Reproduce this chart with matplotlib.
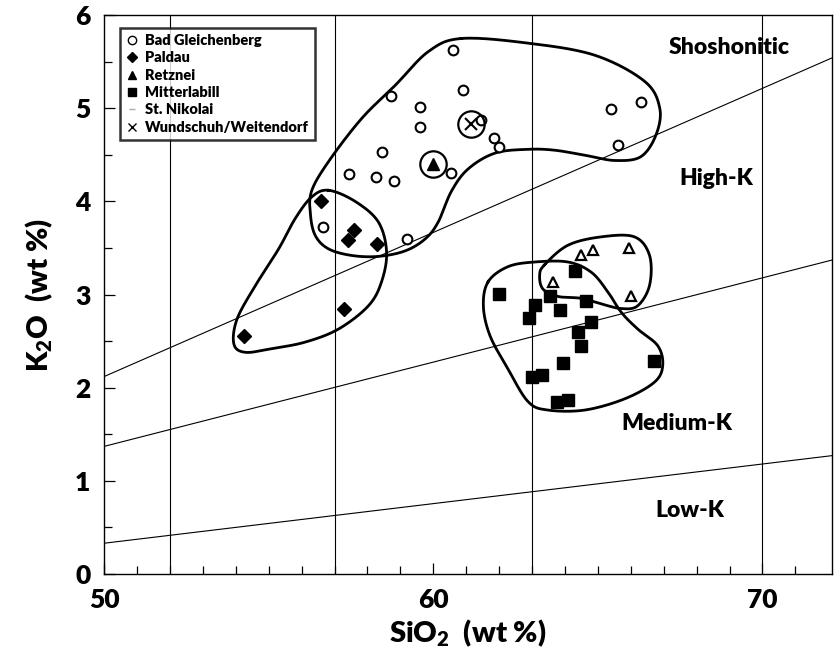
import numpy as np
import matplotlib
matplotlib.use("Agg")
import matplotlib.pyplot as plt
from matplotlib.lines import Line2D

plt.rcParams['font.family'] = ['Lato', 'DejaVu Sans']
plt.rcParams['font.weight'] = 'heavy'
plt.rcParams['mathtext.fontset'] = 'custom'
plt.rcParams['mathtext.rm'] = 'Lato:heavy'
plt.rcParams['mathtext.bf'] = 'Lato:heavy'

# ---- data (SiO2, K2O wt %) ----
gleich_si = [60.6, 58.7, 60.9, 59.6, 59.6, 58.45, 61.45, 61.85, 62.0, 57.45,
             58.25, 58.8, 60.55, 65.4, 66.3, 65.6, 56.65, 59.2]
gleich_k = [5.63, 5.13, 5.20, 5.01, 4.80, 4.53, 4.88, 4.68, 4.59, 4.30,
            4.26, 4.22, 4.31, 4.99, 5.07, 4.61, 3.73, 3.60]

paldau_si = [56.6, 57.6, 57.4, 58.3, 57.3, 54.25]
paldau_k = [4.00, 3.69, 3.59, 3.54, 2.84, 2.56]

retznei_si = [60.0]
retznei_k = [4.40]

mitter_si = [62.0, 63.1, 62.9, 63.55, 64.3, 63.85, 64.65, 64.8, 64.4, 64.5,
             63.95, 63.0, 63.3, 63.75, 64.1, 66.7]
mitter_k = [3.01, 2.89, 2.75, 2.98, 3.25, 2.83, 2.93, 2.71, 2.60, 2.45,
            2.26, 2.12, 2.14, 1.85, 1.87, 2.29]

nikolai_si = [64.85, 64.5, 65.95, 63.65, 66.0]
nikolai_k = [3.48, 3.42, 3.50, 3.14, 2.99]

wund_si = [61.15]
wund_k = [4.83]

# classification boundaries (end points at SiO2 = 50 and 72.1)
bound_x = [50, 72.1]
shosho_y = [2.12, 5.54]
highk_y = [1.37, 3.37]
lowk_y = [0.33, 1.27]
vlines_x = [52, 57, 63, 70]

# hand-drawn group envelopes
env_gleich = [(60.85, 5.75), (62.88, 5.70), (64.91, 5.57), (66.42, 5.29), (66.88, 5.00),
              (66.76, 4.71), (66.30, 4.48), (65.52, 4.44), (64.70, 4.49), (63.70, 4.55),
              (62.88, 4.56), (61.88, 4.52), (61.06, 4.35), (60.55, 4.11), (60.15, 3.78),
              (59.76, 3.60), (59.15, 3.47), (58.33, 3.41), (57.52, 3.42), (56.82, 3.49),
              (56.42, 3.63), (56.27, 3.85), (56.30, 4.11), (56.82, 4.43), (57.82, 4.89),
              (58.85, 5.25), (59.85, 5.61)]
env_paldau = [(56.82, 4.12), (57.63, 4.00), (58.33, 3.78), (58.58, 3.46), (58.43, 3.14),
              (58.03, 2.88), (57.12, 2.63), (56.11, 2.49), (55.10, 2.42), (54.29, 2.38),
              (53.94, 2.47), (54.04, 2.74), (54.60, 3.10), (55.30, 3.49), (55.81, 3.82),
              (56.31, 4.05)]
env_nikolai = [(63.38, 3.32), (64.09, 3.53), (65.10, 3.62), (66.11, 3.62), (66.57, 3.42),
               (66.57, 3.10), (66.21, 2.88), (65.71, 2.85), (65.10, 2.90), (64.49, 2.96),
               (63.79, 2.98), (63.33, 3.06), (63.23, 3.21)]
env_mitter = [(61.67, 3.14), (62.27, 3.30), (63.08, 3.35), (64.09, 3.35), (64.80, 3.24),
              (65.30, 3.03), (65.71, 2.81), (66.21, 2.63), (66.82, 2.45), (66.97, 2.24),
              (66.72, 2.06), (65.81, 1.88), (64.60, 1.76), (63.48, 1.76), (62.88, 1.85),
              (62.27, 2.20), (61.72, 2.56), (61.52, 2.88)]


def closed_spline(pts, n=24, yscale=2.8):
    """closed Catmull-Rom curve through the points"""
    P = np.array(pts, dtype=float)
    P[:, 1] *= yscale
    N = len(P)
    t = np.linspace(0, 1, n, endpoint=False)[:, None]
    out = []
    for i in range(N):
        p0, p1, p2, p3 = P[i - 1], P[i], P[(i + 1) % N], P[(i + 2) % N]
        out.append(0.5 * (2 * p1 + (-p0 + p2) * t
                          + (2 * p0 - 5 * p1 + 4 * p2 - p3) * t ** 2
                          + (-p0 + 3 * p1 - 3 * p2 + p3) * t ** 3))
    out = np.vstack(out)
    out = np.vstack([out, out[:1]])
    out[:, 1] /= yscale
    return out[:, 0], out[:, 1]


fig = plt.figure(figsize=(8.4, 6.62), dpi=100)
ax = fig.add_axes([0.124, 0.133, 0.866, 0.844])

for xv in vlines_x:
    ax.axvline(xv, color='black', lw=0.8, zorder=1)
for yy in (shosho_y, highk_y, lowk_y):
    ax.plot(bound_x, yy, color='black', lw=0.8, zorder=1)

for env in (env_gleich, env_paldau, env_nikolai, env_mitter):
    ex, ey = closed_spline(env)
    ax.plot(ex, ey, color='black', lw=2.0, zorder=2)

ax.plot(gleich_si, gleich_k, 'o', ms=7, mfc='white', mec='black', mew=1.5, ls='none', zorder=3)
ax.plot(paldau_si, paldau_k, 'D', ms=7, color='black', ls='none', zorder=3)
ax.plot(retznei_si, retznei_k, '^', ms=8, color='black', ls='none', zorder=3)
ax.plot(mitter_si, mitter_k, 's', ms=8.5, color='black', ls='none', zorder=3)
ax.plot(nikolai_si, nikolai_k, '^', ms=7, mfc='white', mec='black', mew=1.6, ls='none', zorder=3)
ax.plot(wund_si, wund_k, 'x', ms=8, color='black', mew=1.5, ls='none', zorder=3)
# highlight rings
ax.plot(retznei_si + wund_si, retznei_k + wund_k, 'o', ms=19, mfc='none', mec='black',
        mew=1.6, ls='none', zorder=3)

# field names
lab = dict(fontsize=16.5, fontweight='heavy', ha='center', va='center')
ax.text(69.0, 5.65, 'Shoshonitic', **lab)
ax.text(68.6, 4.25, 'High-K', **lab)
ax.text(67.4, 1.62, 'Medium-K', **lab)
ax.text(67.8, 0.68, 'Low-K', **lab)

ax.set_xlim(50, 72.1)
ax.set_ylim(0, 6)
ax.set_xticks([50, 60, 70])
ax.set_xticks(np.arange(51, 72, 1), minor=True)
ax.set_yticks(range(0, 7))
ax.set_yticks(np.arange(0.5, 6, 1), minor=True)
ax.tick_params(which='both', direction='in', top=False, right=False, width=0.9)
ax.tick_params(which='major', length=8, labelsize=19, pad=10)
ax.tick_params(which='minor', length=6)
for lbl in ax.get_xticklabels() + ax.get_yticklabels():
    lbl.set_fontweight('heavy')
for s in ax.spines.values():
    s.set_linewidth(1.0)

ax.set_xlabel(r'SiO$_{2}$  (wt %)', fontsize=21, fontweight='heavy', labelpad=4)
ax.set_ylabel(r'K$_{2}$O  (wt %)', fontsize=21, fontweight='heavy', labelpad=14)

handles = [
    Line2D([], [], marker='o', ms=6, mfc='white', mec='black', mew=1.0, ls='none'),
    Line2D([], [], marker='D', ms=5, color='black', ls='none'),
    Line2D([], [], marker='^', ms=6, color='black', ls='none'),
    Line2D([], [], marker='s', ms=6, color='black', ls='none'),
    Line2D([], [], marker='_', ms=5, color='#aaaaaa', ls='none'),
    Line2D([], [], marker='x', ms=6, color='black', mew=1.0, ls='none'),
]
names = ['Bad Gleichenberg', 'Paldau', 'Retznei', 'Mitterlabill', 'St. Nikolai',
         'Wundschuh/Weitendorf']
leg = ax.legend(handles, names, loc='upper left', bbox_to_anchor=(0.022, 0.977),
                borderaxespad=0, frameon=True, fancybox=False, handlelength=0.8,
                handletextpad=0.5, labelspacing=0.3, borderpad=0.4,
                prop={'weight': 'heavy', 'size': 10.5})
leg.get_frame().set_edgecolor('black')
leg.get_frame().set_linewidth(1.8)

fig.savefig('out.png', dpi=100)
